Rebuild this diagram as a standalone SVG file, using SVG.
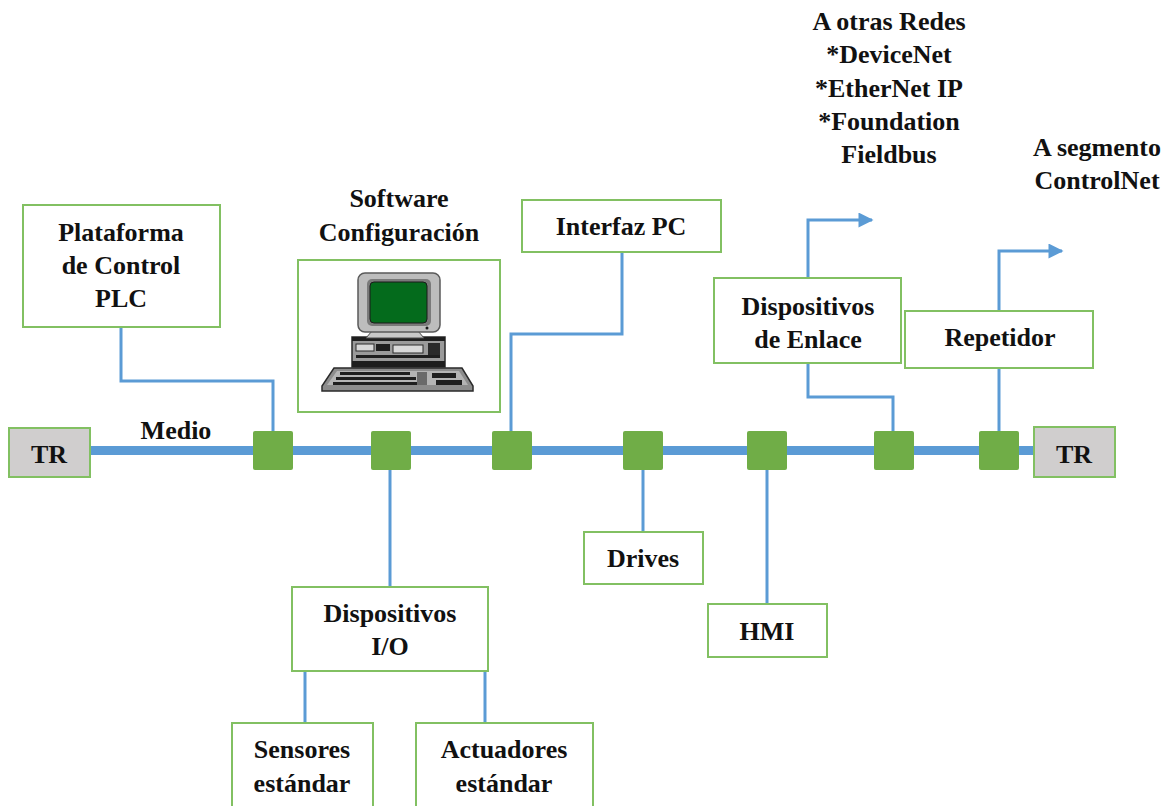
<svg xmlns="http://www.w3.org/2000/svg" width="1169" height="806" viewBox="0 0 1169 806">
  <defs>
    <style>
      .box { fill: #ffffff; stroke: #82c062; stroke-width: 2; }
      .tr { fill: #d0cece; stroke: #82c062; stroke-width: 2; }
      .tap { fill: #70ad47; }
      .wire { fill: none; stroke: #5b9bd5; stroke-width: 3; }
      .bus { fill: none; stroke: #5b9bd5; stroke-width: 9; }
      .lbl { font-family: "Liberation Serif", "Times New Roman", serif; font-weight: bold; font-size: 26px; fill: #111111; text-anchor: middle; }
    </style>
    <marker id="arrow" viewBox="0 0 10 10" refX="9" refY="5" markerWidth="5.5" markerHeight="5" orient="auto" markerUnits="strokeWidth">
      <path d="M0,0 L10,5 L0,10 z" fill="#5b9bd5"/>
    </marker>
  </defs>

  <rect width="1169" height="806" fill="#ffffff"/>

  <!-- connectors -->
  <g id="connectors">
    <line class="bus" x1="90" y1="450.5" x2="1034" y2="450.5"/>
    <polyline class="wire" points="121,327 121,381 273,381 273,431"/>
    <polyline class="wire" points="622,252 622,334 511,334 511,431"/>
    <line class="wire" x1="390" y1="470" x2="390" y2="587"/>
    <polyline class="wire" points="305,671 305,723"/>
    <polyline class="wire" points="485,671 485,723"/>
    <line class="wire" x1="643" y1="470" x2="643" y2="532"/>
    <line class="wire" x1="767" y1="470" x2="767" y2="604"/>
    <polyline class="wire" points="808,363 808,397 893,397 893,431"/>
    <line class="wire" x1="999" y1="368" x2="999" y2="431"/>
    <polyline class="wire" points="808,278 808,220 872,220" marker-end="url(#arrow)"/>
    <polyline class="wire" points="999,311 999,251 1062,251" marker-end="url(#arrow)"/>
  </g>

  <!-- bus taps -->
  <g id="taps">
    <rect class="tap" x="253" y="431" width="40" height="39" rx="2"/>
    <rect class="tap" x="371" y="431" width="40" height="39" rx="2"/>
    <rect class="tap" x="492" y="431" width="40" height="39" rx="2"/>
    <rect class="tap" x="623" y="431" width="40" height="39" rx="2"/>
    <rect class="tap" x="747" y="431" width="40" height="39" rx="2"/>
    <rect class="tap" x="874" y="431" width="40" height="39" rx="2"/>
    <rect class="tap" x="979" y="431" width="40" height="39" rx="2"/>
  </g>

  <text class="lbl" x="176" y="439">Medio</text>

  <g id="tr-left">
    <rect class="tr" x="9" y="428" width="81" height="49"/>
    <text class="lbl" x="49" y="463">TR</text>
  </g>

  <g id="tr-right">
    <rect class="tr" x="1034" y="427" width="81" height="50"/>
    <text class="lbl" x="1074" y="463">TR</text>
  </g>

  <g id="plc">
    <rect class="box" x="23" y="205" width="197" height="122"/>
    <text class="lbl" x="121" y="241">Plataforma</text>
    <text class="lbl" x="121" y="274">de Control</text>
    <text class="lbl" x="121" y="307">PLC</text>
  </g>

  <g id="software">
    <text class="lbl" x="399" y="207">Software</text>
    <text class="lbl" x="399" y="241">Configuración</text>
    <rect class="box" x="298" y="260" width="202" height="152"/>
    <!-- workstation illustration -->
    <g id="computer">
      <!-- keyboard -->
      <path d="M334,368 L462,368 L473,386 L473,391 L322,391 L322,386 Z" fill="#8c8c8c" stroke="#2a2a2a" stroke-width="1.5"/>
      <path d="M337,371 L459,371 L468,385 L327,385 Z" fill="#b4b4b4"/>
      <rect x="340" y="372" width="70" height="3" fill="#1e1e1e"/>
      <rect x="336" y="377" width="80" height="3" fill="#1e1e1e"/>
      <rect x="333" y="382" width="92" height="3" fill="#1e1e1e"/>
      <rect x="432" y="373" width="24" height="5" fill="#1e1e1e"/>
      <rect x="436" y="380" width="26" height="5" fill="#1e1e1e"/>
      <rect x="417" y="372" width="10" height="13" fill="#6a6a6a"/>
      <!-- system unit -->
      <rect x="352" y="337" width="93" height="30" fill="#9a9a9a" stroke="#2a2a2a" stroke-width="1.5"/>
      <rect x="352" y="337" width="93" height="4" fill="#1e1e1e"/>
      <rect x="356" y="344" width="18" height="7" fill="#d8d8d8" stroke="#2a2a2a" stroke-width="1"/>
      <rect x="376" y="344" width="14" height="7" fill="#1e1e1e"/>
      <rect x="393" y="345" width="30" height="8" fill="#d8d8d8" stroke="#2a2a2a" stroke-width="1"/>
      <rect x="428" y="343" width="12" height="12" fill="#2a2a2a"/>
      <rect x="356" y="355" width="84" height="3" fill="#1e1e1e"/>
      <rect x="352" y="361" width="93" height="6" fill="#1e1e1e"/>
      <!-- stand -->
      <path d="M372,331 L418,331 L424,338 L366,338 Z" fill="#c8c8c8" stroke="#4a4a4a" stroke-width="1"/>
      <!-- monitor -->
      <rect x="358" y="273" width="82" height="59" rx="7" fill="#bdbdbd" stroke="#5a5a5a" stroke-width="1.5"/>
      <rect x="367" y="279" width="64" height="47" rx="5" fill="#7a7a7a"/>
      <rect x="370" y="282" width="57" height="41" rx="4" fill="#046b1c" stroke="#1a1a1a" stroke-width="1"/>
      <circle cx="427" cy="328" r="1.5" fill="#1a1a1a"/>
    </g>
  </g>

  <g id="interfaz-pc">
    <rect class="box" x="522" y="200" width="199" height="52"/>
    <text class="lbl" x="621" y="235">Interfaz PC</text>
  </g>

  <g id="dispositivos-enlace">
    <rect class="box" x="714" y="278" width="187" height="85"/>
    <text class="lbl" x="808" y="315">Dispositivos</text>
    <text class="lbl" x="808" y="348">de Enlace</text>
  </g>

  <g id="repetidor">
    <rect class="box" x="905" y="311" width="188" height="57"/>
    <text class="lbl" x="1000" y="346">Repetidor</text>
  </g>

  <g id="otras-redes">
    <text class="lbl" x="889" y="30">A otras Redes</text>
    <text class="lbl" x="889" y="63">*DeviceNet</text>
    <text class="lbl" x="889" y="97">*EtherNet IP</text>
    <text class="lbl" x="889" y="130">*Foundation</text>
    <text class="lbl" x="889" y="163">Fieldbus</text>
  </g>

  <g id="segmento-controlnet">
    <text class="lbl" x="1097" y="156">A segmento</text>
    <text class="lbl" x="1097" y="189">ControlNet</text>
  </g>

  <g id="dispositivos-io">
    <rect class="box" x="292" y="587" width="196" height="84"/>
    <text class="lbl" x="390" y="622">Dispositivos</text>
    <text class="lbl" x="390" y="655">I/O</text>
  </g>

  <g id="sensores">
    <rect class="box" x="232" y="723" width="141" height="95"/>
    <text class="lbl" x="302" y="758">Sensores</text>
    <text class="lbl" x="302" y="792">estándar</text>
  </g>

  <g id="actuadores">
    <rect class="box" x="416" y="723" width="177" height="95"/>
    <text class="lbl" x="504" y="758">Actuadores</text>
    <text class="lbl" x="504" y="792">estándar</text>
  </g>

  <g id="drives">
    <rect class="box" x="584" y="532" width="119" height="52"/>
    <text class="lbl" x="643" y="567">Drives</text>
  </g>

  <g id="hmi">
    <rect class="box" x="708" y="604" width="119" height="53"/>
    <text class="lbl" x="767" y="640">HMI</text>
  </g>
</svg>
